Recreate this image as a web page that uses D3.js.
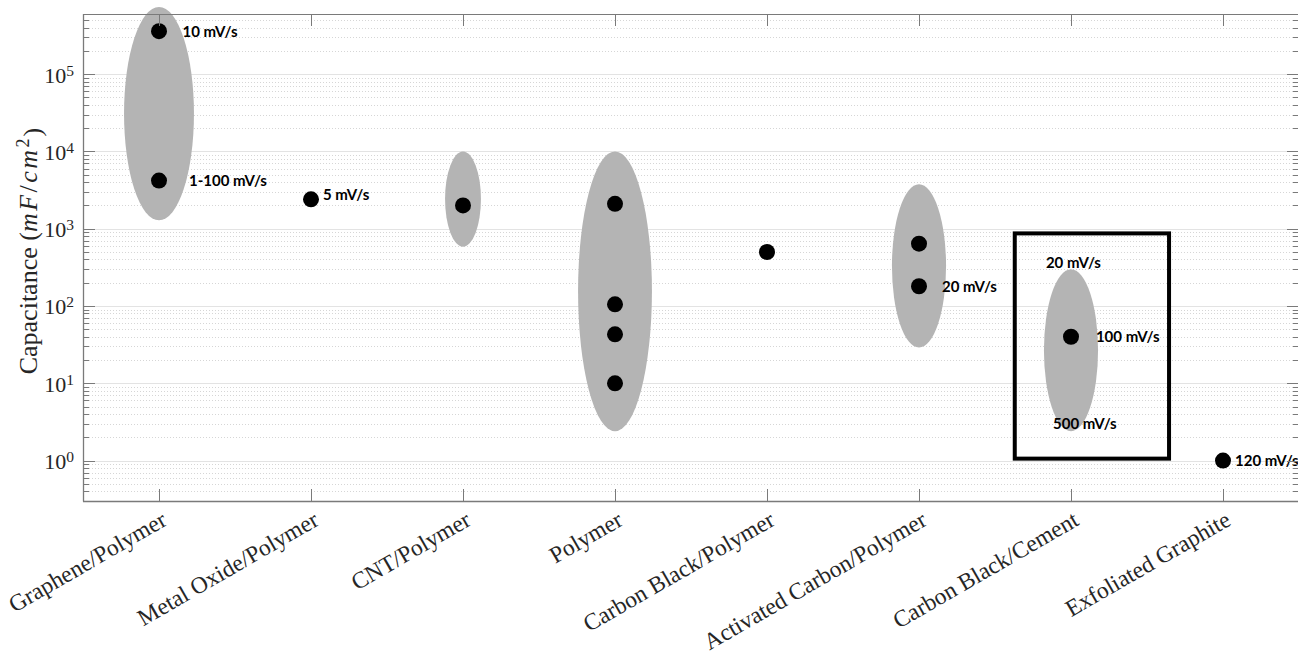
<!DOCTYPE html>
<html>
<head>
<meta charset="utf-8">
<script src="https://cdn.jsdelivr.net/npm/d3@7"></script>
<style>
  html, body { margin: 0; padding: 0; background: #fff; }
  svg { display: block; }
</style>
</head>
<body>
<svg id="chart" width="1298" height="655"></svg>
<script>
// Material classes on the x axis
const categories = [
  "Graphene/Polymer", "Metal Oxide/Polymer", "CNT/Polymer", "Polymer",
  "Carbon Black/Polymer", "Activated Carbon/Polymer", "Carbon Black/Cement",
  "Exfoliated Graphite"
];

// Reported capacitance values (mF/cm^2), one entry per measurement
const pointCategory = [1, 1, 2, 3, 4, 4, 4, 4, 5, 6, 6, 7, 8];
const pointValue    = [3.6e5, 4200, 2400, 2000, 2100, 105, 43, 10, 500, 640, 180, 40, 1];

// Shaded ranges per class: low / high capacitance, half width in category units
const rangeCategory  = [1, 3, 4, 6, 7];
const rangeLow       = [1285, 585, 2.4, 29, 2.4];
const rangeHigh      = [7.4e5, 1.0e4, 1.0e4, 3760, 298];
const rangeHalfWidth = [0.23, 0.118, 0.243, 0.178, 0.178];

// Scan-rate annotations: category, capacitance level, text
const noteCategory = [1, 1, 2, 6, 7, 7, 7, 8];
const noteValue    = [3.6e5, 4200, 2750, 180, 363, 40, 3.0, 1];
const noteText     = ["10 mV/s", "1-100 mV/s", "5 mV/s", "20 mV/s", "20 mV/s", "100 mV/s", "500 mV/s", "120 mV/s"];
const noteOffset   = [0.155, 0.197, 0.079, 0.151, -0.165, 0.164, -0.118, 0.079];

// Highlight box around the cement results
const boxCategory = [6.63, 7.645];
const boxValue    = [1.06, 870];

// Y tick decades
const yTickExponents = [0, 1, 2, 3, 4, 5];

const svg = d3.select("#chart");
const margin = { left: 83, top: 14, right: 1299, bottom: 501 };

const x = d3.scaleLinear().domain([0.5, 8.5]).range([margin.left, margin.right]);
const y = d3.scaleLog().domain([0.3, 6e5]).range([margin.bottom, margin.top]);

const serif = "'Liberation Serif', 'DejaVu Serif', serif";
const sans = "Lato, 'Open Sans', 'Noto Sans', sans-serif";
const axisColor = "#7a7a7a";

// Minor and major values across the domain
const minorVals = [];
for (let e = -1; e <= 5; e++) {
  for (let m = 2; m <= 9; m++) {
    const v = m * Math.pow(10, e);
    if (v >= 0.3 && v <= 6e5) minorVals.push(v);
  }
}
const majorVals = yTickExponents.map(e => Math.pow(10, e));
const py = v => Math.round(y(v)) + 0.5;

// Grid
const grid = svg.append("g");
grid.selectAll("line.minor").data(minorVals).join("line")
  .attr("x1", margin.left).attr("x2", margin.right)
  .attr("y1", py).attr("y2", py)
  .attr("stroke", "#d6d6d6").attr("stroke-width", 1)
  .attr("stroke-dasharray", "1,2");
grid.selectAll("line.major").data(majorVals).join("line")
  .attr("x1", margin.left).attr("x2", margin.right)
  .attr("y1", py).attr("y2", py)
  .attr("stroke", "#e3e3e3").attr("stroke-width", 1.2);

// Shaded ranges (ellipses spanning low..high on the log axis)
svg.append("g").selectAll("ellipse").data(rangeCategory.map((c, i) => i)).join("ellipse")
  .attr("cx", i => x(rangeCategory[i]))
  .attr("cy", i => (y(rangeLow[i]) + y(rangeHigh[i])) / 2)
  .attr("rx", i => x(rangeCategory[i] + rangeHalfWidth[i]) - x(rangeCategory[i]))
  .attr("ry", i => (y(rangeLow[i]) - y(rangeHigh[i])) / 2)
  .attr("fill", "#b4b4b4");

// Highlight box
svg.append("rect")
  .attr("x", x(boxCategory[0]))
  .attr("y", y(boxValue[1]))
  .attr("width", x(boxCategory[1]) - x(boxCategory[0]))
  .attr("height", y(boxValue[0]) - y(boxValue[1]))
  .attr("fill", "none").attr("stroke", "#000").attr("stroke-width", 4);

// Data points
svg.append("g").selectAll("circle").data(pointValue.map((v, i) => i)).join("circle")
  .attr("cx", i => x(pointCategory[i]))
  .attr("cy", i => y(pointValue[i]))
  .attr("r", 8)
  .attr("fill", "#000");

// Annotations
svg.append("g").selectAll("text").data(noteText.map((t, i) => i)).join("text")
  .attr("x", i => x(noteCategory[i] + noteOffset[i]))
  .attr("y", i => y(noteValue[i]))
  .attr("dy", "0.36em")
  .attr("font-family", sans).attr("font-weight", "bold").attr("font-size", 15)
  .attr("fill", "#000")
  .text(i => noteText[i]);

// Axes box
const ax = svg.append("g").attr("stroke", axisColor).attr("fill", "none");
ax.append("line").attr("x1", margin.left + 0.5).attr("x2", margin.left + 0.5)
  .attr("y1", margin.top).attr("y2", margin.bottom + 0.5).attr("stroke-width", 1.3);
ax.append("line").attr("x1", margin.right - 0.5).attr("x2", margin.right - 0.5)
  .attr("y1", margin.top).attr("y2", margin.bottom);
ax.append("line").attr("x1", margin.left).attr("x2", margin.right)
  .attr("y1", margin.bottom + 0.5).attr("y2", margin.bottom + 0.5).attr("stroke-width", 1.3);
ax.append("line").attr("x1", margin.left).attr("x2", margin.right)
  .attr("y1", margin.top + 0.5).attr("y2", margin.top + 0.5);

// X ticks (bottom and top, pointing inward)
const xTicks = d3.range(1, categories.length + 1);
const px = d => Math.round(x(d)) + 0.5;
ax.selectAll("line.xb").data(xTicks).join("line")
  .attr("x1", px).attr("x2", px)
  .attr("y1", margin.bottom).attr("y2", margin.bottom - 12);
ax.selectAll("line.xt").data(xTicks).join("line")
  .attr("x1", px).attr("x2", px)
  .attr("y1", margin.top).attr("y2", margin.top + 12);

// Y ticks (left and right, pointing inward)
[[margin.left, 1], [margin.right, -1]].forEach(([x0, dir]) => {
  ax.selectAll(null).data(majorVals).join("line")
    .attr("x1", x0).attr("x2", x0 + dir * 12)
    .attr("y1", py).attr("y2", py);
  ax.selectAll(null).data(minorVals).join("line")
    .attr("x1", x0).attr("x2", x0 + dir * 6)
    .attr("y1", py).attr("y2", py);
});

// Y tick labels 10^n
const yl = svg.append("g").attr("font-family", serif).attr("fill", "#262626");
yTickExponents.forEach(e => {
  const t = yl.append("text")
    .attr("x", margin.left - 9).attr("y", y(Math.pow(10, e)))
    .attr("dy", "0.38em").attr("text-anchor", "end").attr("font-size", 22);
  t.append("tspan").text("10");
  t.append("tspan").attr("dy", "-0.45em").attr("font-size", 15.5).text(e);
});

// X tick labels, rotated
svg.append("g").selectAll("text").data(categories).join("text")
  .attr("transform", (d, i) => `translate(${x(i + 1) + 1},${margin.bottom + 9}) rotate(-30)`)
  .attr("text-anchor", "end").attr("dy", "0.7em")
  .attr("font-family", serif).attr("font-size", 23.5).attr("fill", "#262626")
  .text(d => d);

// Y axis title with math-style units
const yt = svg.append("text")
  .attr("transform", `translate(37,251) rotate(-90)`)
  .attr("text-anchor", "middle")
  .attr("font-family", serif).attr("font-size", 26).attr("fill", "#262626");
yt.append("tspan").text("Capacitance (");
yt.append("tspan").attr("font-style", "italic").attr("letter-spacing", 2.5).text("mF");
yt.append("tspan").attr("letter-spacing", 2.5).text("/");
yt.append("tspan").attr("font-style", "italic").attr("letter-spacing", 2.5).text("cm");
yt.append("tspan").attr("dy", "-0.45em").attr("font-size", 18).text("2");
yt.append("tspan").attr("dy", "0.45em").attr("dx", 2).text(")");
</script>
</body>
</html>
